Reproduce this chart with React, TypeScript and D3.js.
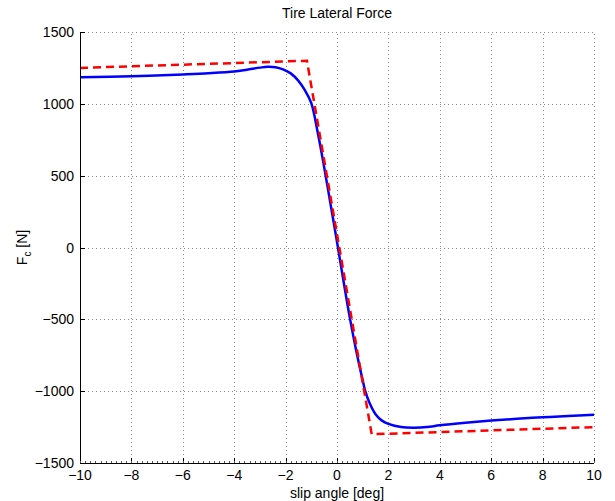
import * as d3 from "d3";

// slip angle [deg] vs lateral force [N]
const blueX = [-10, -8, -6, -5, -4, -3.5, -3, -2.7, -2.4, -2.1, -1.8, -1.5, -1.25, -1, -0.75, -0.5, -0.25, 0,
  0.25, 0.5, 0.75, 1, 1.1, 1.25, 1.5, 1.75, 2, 2.5, 3, 3.5, 4, 5, 6, 7, 8, 9, 10];
const blueY = [1185, 1192, 1205, 1213, 1225, 1238, 1252, 1258, 1255, 1240, 1212, 1160, 1095, 1005, 800, 560, 300, 40,
  -230, -490, -720, -925, -1000, -1075, -1160, -1205, -1228, -1250, -1254, -1250, -1238, -1220, -1205, -1192, -1182, -1172, -1165];

const redX = [-10, -1.17, 1.35, 10];
const redY = [1250, 1300, -1300, -1250];

const xTicks = [-10, -8, -6, -4, -2, 0, 2, 4, 6, 8, 10];
const yTicks = [-1500, -1000, -500, 0, 500, 1000, 1500];

const W = 615;
const H = 501;
const m = { left: 80, right: 21, top: 32, bottom: 38 };

export default function App() {
  const x = d3.scaleLinear().domain([-10, 10]).range([m.left, W - m.right]);
  const y = d3.scaleLinear().domain([-1500, 1500]).range([H - m.bottom, m.top]);

  const blue = d3
    .line<[number, number]>()
    .x((d) => x(d[0]))
    .y((d) => y(d[1]))
    .curve(d3.curveCatmullRom)(blueX.map((v, i) => [v, blueY[i]]) as [number, number][]);
  const red = d3
    .line<[number, number]>()
    .x((d) => x(d[0]))
    .y((d) => y(d[1]))(redX.map((v, i) => [v, redY[i]]) as [number, number][]);

  const minor = d3.range(-10, 10.001, 0.2);
  const font = "'Liberation Sans', Arial, sans-serif";
  const x0 = x(-10), x1 = x(10), y0 = y(-1500), y1 = y(1500);
  const fmt = (t: number) => (t < 0 ? "\u2212" + Math.abs(t) : String(t));

  return (
    <svg width={W} height={H} style={{ position: "absolute", left: 0, top: 0, background: "#fff" }} fontFamily={font}>
      {/* grid */}
      <g stroke="#888" strokeWidth={1} strokeDasharray="1,3" shapeRendering="crispEdges">
        {xTicks.slice(1).map((t) => (
          <line key={"gx" + t} x1={Math.round(x(t)) + 0.5} x2={Math.round(x(t)) + 0.5} y1={y0} y2={y1} />
        ))}
        {yTicks.slice(1).map((t) => (
          <line key={"gy" + t} x1={x0} x2={x1} y1={Math.round(y(t)) + 0.5} y2={Math.round(y(t)) + 0.5} />
        ))}
      </g>

      {/* curves */}
      <path d={blue ?? ""} fill="none" stroke="#0000ff" strokeWidth={2.5} />
      <path d={red ?? ""} fill="none" stroke="#ff0000" strokeWidth={2.5} strokeDasharray="8,5" />

      {/* axes */}
      <g stroke="#000" strokeWidth={1} shapeRendering="crispEdges">
        <line x1={Math.round(x0) + 0.5} x2={Math.round(x0) + 0.5} y1={y1} y2={y0} />
        <line x1={x0} x2={x1} y1={Math.round(y0) + 0.5} y2={Math.round(y0) + 0.5} />
        {xTicks.map((t) => (
          <line key={"tx" + t} x1={Math.round(x(t)) + 0.5} x2={Math.round(x(t)) + 0.5} y1={y0} y2={y0 - 5} />
        ))}
        {yTicks.map((t) => (
          <line key={"ty" + t} x1={x0} x2={x0 + 5} y1={Math.round(y(t)) + 0.5} y2={Math.round(y(t)) + 0.5} />
        ))}
      </g>
      <g stroke="#555" strokeWidth={1} shapeRendering="crispEdges">
        {minor.map((t, i) => (
          <line key={"mx" + i} x1={Math.round(x(t)) + 0.5} x2={Math.round(x(t)) + 0.5} y1={y0} y2={y0 - 2} />
        ))}
      </g>

      {/* tick labels */}
      <g fontSize={14} fill="#000">
        {xTicks.map((t) => (
          <text key={"lx" + t} x={x(t)} y={y0 + 17} textAnchor="middle">
            {fmt(t)}
          </text>
        ))}
        {yTicks.map((t) => (
          <text key={"ly" + t} x={x0 - 6} y={y(t) + 5} textAnchor="end">
            {fmt(t)}
          </text>
        ))}
      </g>

      {/* title & labels */}
      <text x={(x0 + x1) / 2} y={18} textAnchor="middle" fontSize={14}>
        Tire Lateral Force
      </text>
      <text x={(x0 + x1) / 2} y={H - 3} textAnchor="middle" fontSize={14}>
        slip angle [deg]
      </text>
      <text transform={`translate(27,${(y0 + y1) / 2}) rotate(-90)`} textAnchor="middle" fontSize={14}>
        F<tspan fontSize={10} dy={4}>c</tspan>
        <tspan dy={-4}> [N]</tspan>
      </text>
    </svg>
  );
}
